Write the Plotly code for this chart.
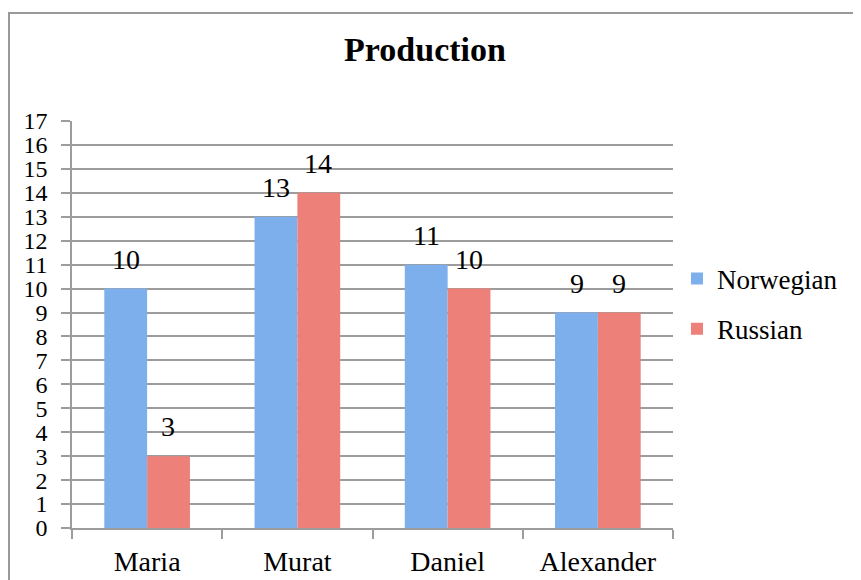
import plotly.graph_objects as go

categories = ["Maria", "Murat", "Daniel", "Alexander"]
norwegian = [10, 13, 11, 9]
russian = [3, 14, 10, 9]
y_ticks = list(range(0, 18))

FONT = "Liberation Serif"
GRID = "#9C9C9C"
BLUE = "#7CAFEC"
RED = "#EE807A"

fig = go.Figure()
fig.add_trace(go.Bar(name="Norwegian", x=categories, y=norwegian,
                     marker=dict(color=BLUE, line=dict(width=0)), legendgroup="a"))
fig.add_trace(go.Bar(name="Russian", x=categories, y=russian,
                     marker=dict(color=RED, line=dict(width=0)), legendgroup="b"))

# value labels above bars
annotations = []
for series, shift in ((norwegian, -21), (russian, 21)):
    for cat, v in zip(categories, series):
        annotations.append(dict(x=cat, y=v, xref="x", yref="y", text=str(v),
                                showarrow=False, xanchor="center", yanchor="bottom",
                                xshift=shift, yshift=12,
                                font=dict(family=FONT, size=28, color="black")))

# page body has an 8px margin, so the figure is 8px smaller than the window
W, H = 853, 572
L, R, T, B = 64, 188, 113, 52
pw = W - L - R
ph = H - T - B

fig.update_layout(
    template="none",
    width=W, height=H,
    margin=dict(l=L, r=R, t=T, b=B, pad=0, autoexpand=False),
    paper_bgcolor="white", plot_bgcolor="white",
    font=dict(family=FONT, size=27, color="black"),
    barmode="group", bargap=0.43, bargroupgap=0,
    title=dict(text="<b>Production</b>", x=417 / W, xanchor="center", xref="container",
               y=1 - 41 / H, yanchor="middle", yref="container",
               font=dict(family=FONT, size=34, color="black")),
    legend=dict(x=1.0 + 4 / pw, xanchor="left", y=(H - B - 296) / ph, yanchor="middle",
                font=dict(family=FONT, size=27), traceorder="grouped",
                tracegroupgap=12, bgcolor="rgba(0,0,0,0)", borderwidth=0),
    showlegend=True,
    annotations=annotations,
    shapes=[dict(type="rect", xref="paper", yref="paper",
                 x0=(1 - L) / pw, x1=(W + 20 - L) / pw,
                 y0=-(B + 20) / ph, y1=(H - B - 5) / ph,
                 line=dict(color="#999999", width=2), fillcolor="rgba(0,0,0,0)",
                 layer="below")],
)
fig.update_yaxes(range=[0, 17], tickvals=y_ticks, ticktext=[str(v) for v in y_ticks],
                 showgrid=True, gridcolor=GRID, gridwidth=1.5,
                 showline=True, linecolor=GRID, linewidth=1.5,
                 ticks="outside", ticklen=9, tickcolor=GRID, tickwidth=1.5,
                 zeroline=False, tickfont=dict(family=FONT, size=24),
                 ticklabelstandoff=9, automargin=False)
fig.update_xaxes(showline=True, linecolor=GRID, linewidth=1.5,
                 ticks="outside", ticklen=9, tickcolor=GRID, tickwidth=1.5,
                 tickson="boundaries", showgrid=False, zeroline=False,
                 tickfont=dict(family=FONT, size=28), ticklabelstandoff=8,
                 automargin=False)

fig.write_html("out.html")
